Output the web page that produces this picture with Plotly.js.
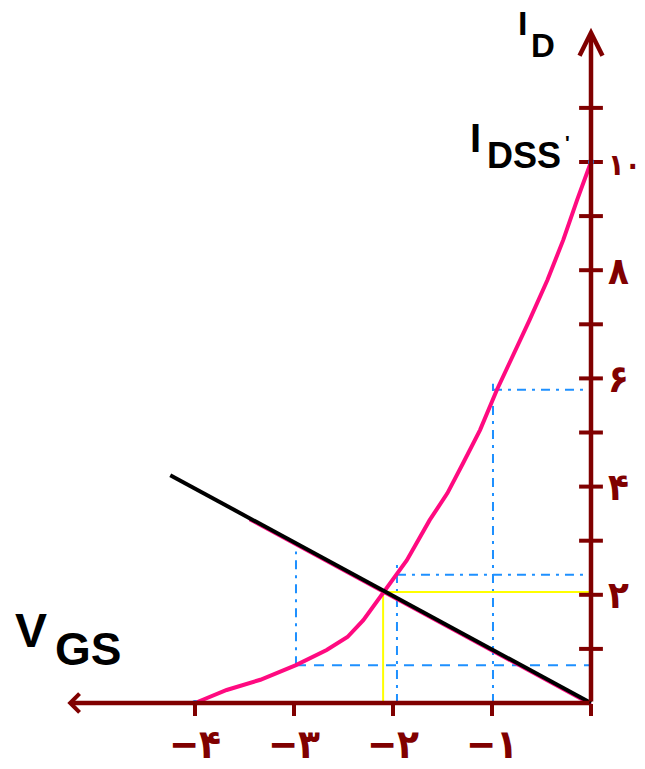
<!DOCTYPE html>
<html>
<head>
<meta charset="utf-8">
<script src="https://cdn.plot.ly/plotly-3.0.1.min.js"></script>
<style>
  html, body { margin: 0; padding: 0; background: #ffffff; }
  #chart { width: 645px; height: 769px; }
</style>
</head>
<body>
<div id="chart"></div>
<script>
// JFET transfer characteristic I_D(V_GS) with the self-bias load line and Q point

// transfer curve (V_GS in volts, I_D in mA)
const vgsCurve = [-4.0, -3.68, -3.34, -2.98, -2.67, -2.46, -2.30, -2.13, -2.00, -1.86,
                  -1.63, -1.45, -1.29, -1.12, -0.95, -0.79, -0.62, -0.44, -0.28, -0.14, 0];
const idCurve  = [0, 0.24, 0.43, 0.70, 0.98, 1.22, 1.53, 1.96, 2.27, 2.64,
                  3.38, 3.88, 4.44, 5.05, 5.79, 6.40, 7.08, 7.82, 8.56, 9.30, 10];

// self-bias load line
const vgsLoad = [-4.25, 0];
const idLoad  = [4.21, 0];

// pink trace running along the lower edge of the load line
const vgsLoadEdge = [-3.45, 0];
const idLoadEdge  = [3.39, -0.03];

// operating point
const vgsQ = -2.10;
const idQ  = 2.05;

// construction guides: curve points read at V_GS ≈ -3, -2, -1
const guideVgs    = [-2.98, -1.96, -0.99];
const guideId     = [0.70, 2.37, 5.79];
const guideVLow   = [0.70, 0, 0];
const guideVHigh  = [2.80, 2.55, 5.90];

// axis ticks and labels
const xTickVals  = [-4, -3, -2, -1, 0];
const xTickText  = ['−۴', '−۳', '−۲', '−۱', ''];
const yTickVals  = [2, 4, 6, 8, 10];
const yTickText  = ['۲', '۴', '۶', '۸', '<span style="font-size:30px">۱۰</span>'];
const yMarkVals  = [1, 2, 3, 4, 5, 6, 7, 8, 9, 10, 11];

// axis extents (arrow tips)
const xAxisEnd = -5.29;
const yAxisEnd = 12.48;

const AXIS = '#800000';
const BLUE = '#1e90ff';
const PINK = '#ff0a80';
const YELLOW = '#ffff00';

const traces = [];

// blue construction guides
guideVgs.forEach(function (v, i) {
  traces.push({
    x: [v, v], y: [guideVLow[i], guideVHigh[i]], mode: 'lines',
    line: { color: BLUE, width: 2, dash: '9px,6px,3px,6px' }, hoverinfo: 'skip'
  });
  traces.push({
    x: [v, 0], y: [guideId[i], guideId[i]], mode: 'lines',
    line: { color: BLUE, width: 2, dash: i === 0 ? '10px,8px' : '9px,6px,3px,6px' }, hoverinfo: 'skip'
  });
});

// Q point projections
traces.push({
  x: [vgsQ, vgsQ, 0], y: [0, idQ, idQ], mode: 'lines',
  line: { color: YELLOW, width: 2 }, hoverinfo: 'skip'
});

// transfer curve
traces.push({
  x: vgsCurve, y: idCurve, mode: 'lines',
  line: { color: PINK, width: 4 }, hoverinfo: 'skip'
});

// load line with its pink edge
traces.push({
  x: vgsLoadEdge, y: idLoadEdge, mode: 'lines',
  line: { color: PINK, width: 3 }, hoverinfo: 'skip'
});
traces.push({
  x: vgsLoad, y: idLoad, mode: 'lines',
  line: { color: '#000000', width: 4 }, hoverinfo: 'skip'
});

// tick marks on the I_D axis
traces.push({
  x: yMarkVals.map(function () { return 0; }), y: yMarkVals, mode: 'markers',
  marker: { symbol: 'line-ew', size: 17, line: { color: AXIS, width: 4 } }, hoverinfo: 'skip'
});

// end points of the curve
traces.push({
  x: [vgsCurve[0], vgsCurve[vgsCurve.length - 1]],
  y: [idCurve[0], idCurve[idCurve.length - 1]],
  mode: 'markers', marker: { color: BLUE, size: 6, symbol: 'circle' }, hoverinfo: 'skip'
});

const labelFont = { family: 'Liberation Sans, Arial, sans-serif', color: '#000000', weight: 'bold' };
function txt(text, x, y, size) {
  return {
    text: text, xref: 'paper', yref: 'paper', x: x / 645, y: 1 - y / 769,
    xanchor: 'center', yanchor: 'middle', showarrow: false,
    font: Object.assign({}, labelFont, { size: size })
  };
}

const layout = {
  width: 645, height: 769, autosize: false,
  margin: { l: 0, r: 0, t: 0, b: 0, pad: 0 },
  paper_bgcolor: '#ffffff', plot_bgcolor: '#ffffff',
  showlegend: false,
  xaxis: {
    range: [-5.970, 0.5455], fixedrange: true,
    anchor: 'free', position: 66 / 769,
    showline: false, showgrid: false, zeroline: false,
    ticks: 'outside', ticklen: 12, tickwidth: 4, tickcolor: AXIS,
    tickvals: xTickVals, ticktext: xTickText, ticklabelstandoff: -6,
    tickfont: { family: 'DejaVu Sans Condensed, DejaVu Sans, sans-serif', size: 40, color: AXIS, weight: 'bold' }
  },
  yaxis: {
    range: [-1.2200, 12.9945], fixedrange: true,
    anchor: 'free', position: 591 / 645, side: 'right',
    showline: false, showgrid: false, zeroline: false,
    ticks: '', tickvals: yTickVals, ticktext: yTickText, ticklabelstandoff: 16,
    tickfont: { family: 'DejaVu Sans Condensed, DejaVu Sans, sans-serif', size: 38, color: AXIS, weight: 'bold' }
  },
  annotations: [
    // I_D axis with arrow
    { x: 0, y: yAxisEnd, ax: 0, ay: 0, xref: 'x', yref: 'y', axref: 'x', ayref: 'y',
      text: '', showarrow: true, arrowhead: 5, arrowsize: 1, arrowwidth: 4.5,
      arrowcolor: AXIS, standoff: 0, startstandoff: 0, font: { size: 1 } },
    // V_GS axis with arrow
    { x: xAxisEnd, y: 0, ax: 0, ay: 0, xref: 'x', yref: 'y', axref: 'x', ayref: 'y',
      text: '', showarrow: true, arrowhead: 4, arrowsize: 0.8, arrowwidth: 4.5,
      arrowcolor: AXIS, standoff: 0, startstandoff: 0, font: { size: 1 } },
    txt('I', 522, 23, 34),
    txt('D', 543, 45, 33),
    txt('I', 475, 138, 40),
    txt('DSS', 524, 155, 36),
    txt("'", 567, 143, 20),
    txt('V', 31, 630, 48),
    txt('GS', 88, 649, 46)
  ]
};

Plotly.newPlot('chart', traces, layout, { staticPlot: true, displayModeBar: false });
</script>
</body>
</html>
